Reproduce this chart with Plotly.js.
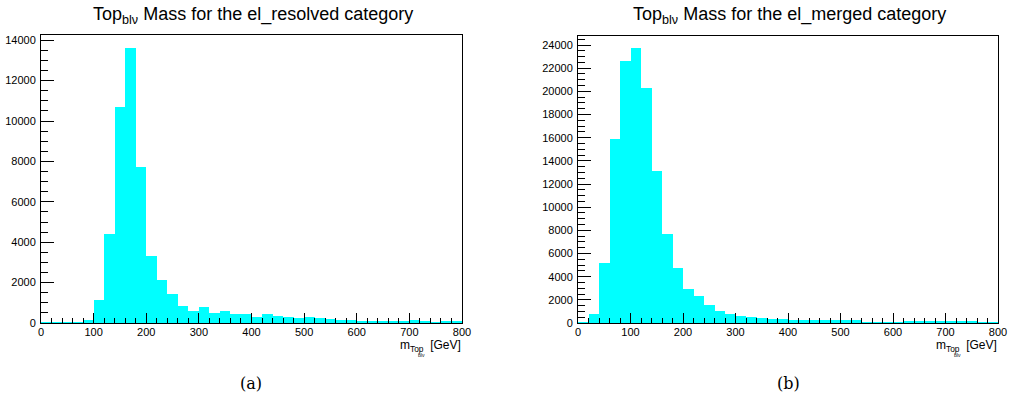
<!DOCTYPE html>
<html>
<head>
<meta charset="utf-8">
<script src="https://cdn.plot.ly/plotly-3.0.1.min.js"></script>
<style>html,body{margin:0;padding:0;background:#fff;}#chart{width:1009px;height:405px;}</style>
</head>
<body>
<div id="chart"></div>
<script>
// Bin lower edges (GeV), bin width 20 GeV
const binLow = [0,20,40,60,80,100,120,140,160,180,200,220,240,260,280,300,320,340,360,380,
                400,420,440,460,480,500,520,540,560,580,600,620,640,660,680,700,720,740,760,780];
const binWidth = 20;

// (a) el_resolved
const resolvedCounts = [60,60,60,60,140,1140,4420,10690,13630,7710,3340,2120,1440,840,570,800,490,590,460,460,
                        315,440,360,310,250,300,250,200,165,150,115,115,100,100,80,150,100,65,80,80];
// (b) el_merged
const mergedCounts = [90,750,5180,15890,22620,23710,20290,13120,7650,4780,2960,2320,1525,1065,780,620,490,410,345,345,
                      260,260,250,230,250,230,230,90,90,100,100,200,200,200,200,170,160,145,90,60];

const titleA = "Top<sub>blν</sub> Mass for the el_resolved category";
const titleB = "Top<sub>blν</sub> Mass for the el_merged category";
const xLabelMain = "m<sub>Top</sub>  [GeV]";
const xLabelSub = "blν";
const panelA = "(a)";
const panelB = "(b)";

const centers = binLow.map(v => v + binWidth / 2);
const W = 1009, H = 405;
const px = x => x / W;
const py = y => (H - y) / H;

const SANS = "Liberation Sans";
const tickFont = {family: SANS, size: 11, color: "#000"};

function xa(domain) {
  return {
    domain: domain, range: [0, 800], dtick: 100, tick0: 0, tickformat: "d",
    ticks: "inside", ticklen: 10, tickcolor: "#000", tickwidth: 1,
    minor: {ticks: "inside", ticklen: 5, dtick: 20, tickcolor: "#000", tickwidth: 1},
    showline: true, mirror: true, linecolor: "#000", linewidth: 1,
    showgrid: false, zeroline: false, tickfont: tickFont, ticklabelstandoff: -1,
    fixedrange: true
  };
}
function ya(domain, top, anchor) {
  return {
    domain: domain, range: [0, top], dtick: 2000, tick0: 0, anchor: anchor,
    tickformat: "d", exponentformat: "none", separatethousands: false,
    ticks: "inside", ticklen: 13, tickcolor: "#000", tickwidth: 1,
    minor: {ticks: "inside", ticklen: 7, dtick: 500, tickcolor: "#000", tickwidth: 1},
    showline: true, mirror: true, linecolor: "#000", linewidth: 1,
    showgrid: false, zeroline: false, tickfont: tickFont, ticklabelstandoff: 2,
    fixedrange: true
  };
}

const data = [
  {type: "bar", x: centers, y: resolvedCounts, width: binWidth, xaxis: "x", yaxis: "y",
   marker: {color: "#00ffff", line: {width: 0}}, hoverinfo: "x+y"},
  {type: "bar", x: centers, y: mergedCounts, width: binWidth, xaxis: "x2", yaxis: "y2",
   marker: {color: "#00ffff", line: {width: 0}}, hoverinfo: "x+y"}
];

const annFont = {family: SANS, size: 18, color: "#000"};
const labFont = {family: SANS, size: 12, color: "#000"};
const subFont = {family: SANS, size: 5, color: "#000"};
const serifFont = {family: "DejaVu Serif", size: 16, color: "#000"};

function ann(text, x, y, xanchor, font) {
  return {text: text, xref: "paper", yref: "paper", x: px(x), y: py(y),
          xanchor: xanchor, yanchor: "middle", showarrow: false, font: font};
}

const layout = {
  width: W, height: H,
  margin: {l: 0, r: 0, t: 0, b: 0},
  paper_bgcolor: "#fff", plot_bgcolor: "#fff",
  showlegend: false, bargap: 0,
  xaxis: xa([px(41), px(462)]),
  yaxis: ya([py(323), py(35)], 14260, "x"),
  xaxis2: Object.assign(xa([px(578), px(998)]), {anchor: "y2"}),
  yaxis2: ya([py(323), py(36)], 24780, "x2"),
  annotations: [
    ann(titleA, 253, 15, "center", annFont),
    ann(titleB, 789, 15, "center", annFont),
    ann(xLabelMain, 463, 346, "right", labFont),
    ann(xLabelSub, 421, 355, "center", subFont),
    ann(xLabelMain, 999, 346, "right", labFont),
    ann(xLabelSub, 957, 355, "center", subFont),
    ann(panelA, 251, 383, "center", serifFont),
    ann(panelB, 788, 383, "center", serifFont)
  ]
};

Plotly.newPlot("chart", data, layout, {staticPlot: true, displayModeBar: false});
</script>
</body>
</html>
